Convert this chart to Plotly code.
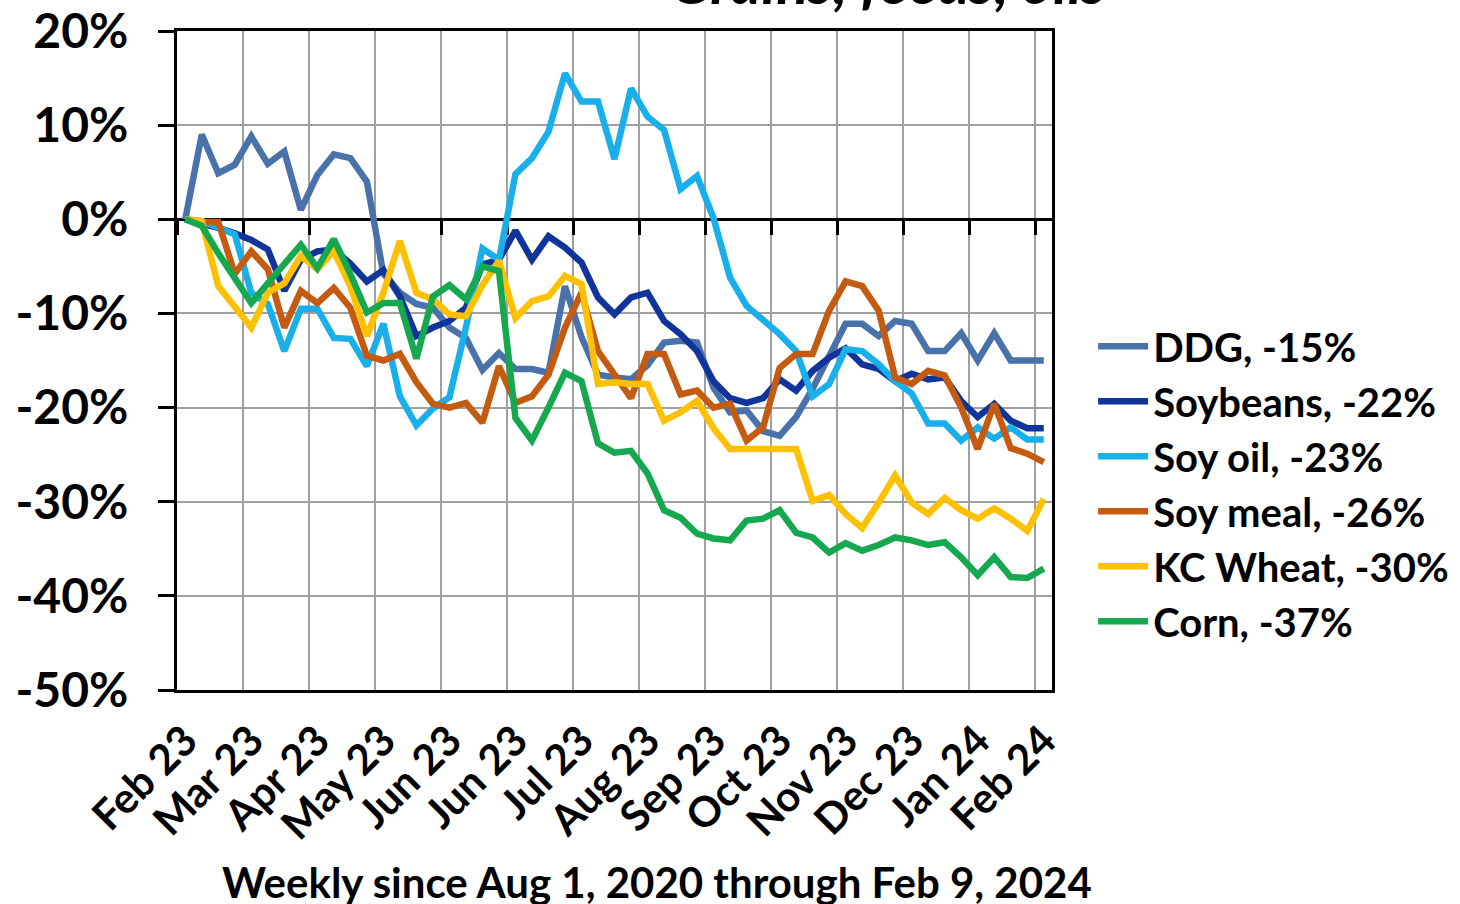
import plotly.graph_objects as go

# Weekly observations, Feb 10 2023 through Feb 9 2024 (53 weeks), % change
weeks = list(range(53))

ddg = [0, 9.0, 4.9, 5.8, 8.8, 5.9, 7.2, 1.0, 4.7, 6.9, 6.5, 4.0, -5.8, -7.8, -9.0,
       -9.4, -11.5, -12.6, -16.0, -14.2, -15.9, -15.9, -16.3, -7.1, -12.5, -16.5,
       -16.8, -17.0, -15.5, -13.1, -12.9, -13.1, -17.9, -20.5, -20.3, -22.5, -23.0,
       -21.0, -18.0, -14.5, -11.1, -11.1, -12.4, -10.8, -11.1, -14.0, -14.0, -12.1,
       -15.0, -12.1, -15.0, -15.0, -15.0]
soybeans = [0, -0.4, -0.9, -1.5, -2.2, -3.2, -7.6, -4.3, -3.4, -3.2, -4.7, -6.6, -5.4,
            -8.2, -12.4, -11.5, -10.8, -9.4, -4.8, -4.3, -1.2, -4.3, -1.8, -3.0, -4.6,
            -8.3, -10.1, -8.3, -7.8, -10.8, -12.2, -14.0, -17.2, -19.0, -19.5, -19.0,
            -17.0, -18.2, -16.1, -14.7, -13.7, -15.4, -15.9, -17.2, -16.4, -17.0, -16.8,
            -19.3, -21.0, -19.6, -21.4, -22.2, -22.2]
soy_oil = [0, -0.2, -0.9, -1.6, -7.8, -9.0, -14.0, -9.5, -9.5, -12.6, -12.7, -15.6, -11.1,
           -18.8, -21.9, -20.1, -18.9, -11.5, -3.1, -4.3, 4.8, 6.5, 9.3, 15.5, 12.5, 12.5,
           6.4, 13.9, 10.9, 9.5, 3.2, 4.6, 0.1, -6.2, -9.2, -10.6, -12.2, -14.0, -18.8,
           -17.5, -13.8, -14.0, -15.4, -17.2, -18.5, -21.7, -21.7, -23.5, -22.1, -23.3,
           -22.1, -23.4, -23.4]
soy_meal = [0, -0.3, -0.3, -5.8, -3.4, -5.3, -11.5, -7.6, -8.9, -7.3, -9.4, -14.5, -15.0,
            -14.3, -17.3, -19.6, -20.0, -19.5, -21.6, -15.6, -19.5, -18.8, -16.5, -11.5,
            -7.8, -14.0, -16.5, -19.0, -14.3, -14.3, -18.6, -18.2, -20.0, -19.6, -23.5,
            -22.1, -15.8, -14.3, -14.3, -9.7, -6.6, -7.1, -9.7, -16.8, -17.5, -16.1, -16.6,
            -20.0, -24.4, -19.6, -24.3, -24.9, -25.8]
kc_wheat = [0, -0.2, -7.1, -9.2, -11.5, -7.8, -6.8, -3.9, -5.3, -3.4, -7.1, -12.4, -7.8,
            -2.3, -7.8, -8.5, -10.1, -10.3, -7.0, -4.4, -10.5, -8.7, -8.2, -6.0, -6.9,
            -17.5, -17.3, -17.5, -17.5, -21.4, -20.5, -19.3, -22.2, -24.4, -24.4, -24.4,
            -24.4, -24.4, -29.9, -29.3, -31.3, -32.8, -30.1, -27.2, -30.1, -31.3, -29.6,
            -30.9, -31.8, -30.7, -31.8, -33.1, -29.7]
corn = [0, -0.7, -3.6, -6.4, -8.9, -6.8, -4.7, -2.7, -5.2, -2.1, -5.8, -9.9, -8.9, -8.9,
        -14.8, -8.2, -7.0, -8.5, -5.0, -5.5, -21.1, -23.5, -20.0, -16.3, -17.2, -23.8,
        -24.8, -24.6, -27.0, -30.9, -31.7, -33.4, -33.9, -34.1, -32.0, -31.8, -30.9,
        -33.3, -33.8, -35.4, -34.4, -35.2, -34.6, -33.8, -34.1, -34.6, -34.3, -35.9,
        -37.8, -35.9, -38.0, -38.1, -37.1]

series_names = ["DDG, -15%", "Soybeans, -22%", "Soy oil, -23%", "Soy meal, -26%",
                "KC Wheat, -30%", "Corn, -37%"]
series_values = [ddg, soybeans, soy_oil, soy_meal, kc_wheat, corn]
series_colors = ["#4A72AA", "#10359A", "#19AFEA", "#C55A11", "#FFC000", "#16A84E"]

# Month labels every 4th week
label_weeks = list(range(0, 53, 4))
month_labels = ["Feb 23", "Mar 23", "Apr 23", "May 23", "Jun 23", "Jun 23", "Jul 23",
                "Aug 23", "Sep 23", "Oct 23", "Nov 23", "Dec 23", "Jan 24", "Feb 24"]
# Gridlines sit on the boundaries between weekly categories
grid_weeks = [w - 0.5 for w in label_weeks]

y_min, y_max = -50, 20
y_ticks = list(range(y_min, y_max + 1, 10))
y_labels = [f"{v}%" for v in y_ticks]

FONT = "Lato"
GRID = "#A0A0A0"

fig = go.Figure()
for name, vals, col in zip(series_names, series_values, series_colors):
    fig.add_trace(go.Scatter(x=weeks, y=vals, name=name, mode="lines",
                             line=dict(color=col, width=6.5)))

x_range = [-0.5, len(weeks) - 0.5]

fig.update_layout(
    width=1460, height=904,
    margin=dict(l=177, r=408, t=31, b=214, autoexpand=False),
    paper_bgcolor="white", plot_bgcolor="white",
    font=dict(family=FONT, color="black", size=42, weight="bold"),
    showlegend=True,
    legend=dict(x=1.047, y=0.571, xanchor="left", yanchor="top",
                font=dict(family=FONT, size=40, weight="bold"),
                itemwidth=50, tracegroupgap=0, bgcolor="rgba(0,0,0,0)"),
    xaxis=dict(
        range=x_range, tickmode="array", tickvals=label_weeks, ticktext=month_labels,
        tickangle=-45, ticks="", showgrid=False, zeroline=False, automargin=False,
        showline=True, linecolor="black", linewidth=3, mirror=True,
        tickfont=dict(family=FONT, size=42, weight="bold"),
        ticklabelstandoff=6,
        minor=dict(tickmode="array", tickvals=grid_weeks, showgrid=True,
                   gridcolor=GRID, gridwidth=2, ticks=""),
    ),
    xaxis2=dict(
        overlaying="x", anchor="free", position=(0 - y_min) / (y_max - y_min),
        side="bottom", range=x_range, tickmode="array", tickvals=grid_weeks,
        ticks="outside", ticklen=14, tickwidth=3, tickcolor="black",
        showticklabels=False, showgrid=False, zeroline=False, automargin=False,
        showline=True, linecolor="black", linewidth=3, layer="below traces",
    ),
    yaxis=dict(
        range=[y_min, y_max], tickmode="array", tickvals=y_ticks, ticktext=y_labels,
        ticks="outside", ticklen=16, tickwidth=2.5, tickcolor="black",
        showgrid=True, gridcolor=GRID, gridwidth=2, zeroline=False, automargin=False,
        showline=True, linecolor="black", linewidth=3, mirror=True,
        tickfont=dict(family=FONT, size=48, weight="bold"),
        ticklabelstandoff=20,
    ),
)

# Invisible anchor trace so the zero-line axis is drawn
fig.add_trace(go.Scatter(x=[x_range[0]], y=[0], xaxis="x2", mode="lines",
                         showlegend=False, hoverinfo="skip",
                         line=dict(color="rgba(0,0,0,0)")))

fig.add_annotation(text="Grains, feeds, oils", xref="paper", yref="paper",
                   x=(888 - 177) / 875, y=1.018, xanchor="center", yanchor="bottom",
                   showarrow=False,
                   font=dict(family=FONT, size=60, style="italic", weight="bold"))
fig.add_annotation(text="Weekly since Aug 1, 2020 through Feb 9, 2024",
                   xref="paper", yref="paper", x=(657 - 177) / 875, y=-0.292,
                   xanchor="center", yanchor="middle", showarrow=False,
                   font=dict(family=FONT, size=42, weight="bold"))

fig.write_html("out.html")
